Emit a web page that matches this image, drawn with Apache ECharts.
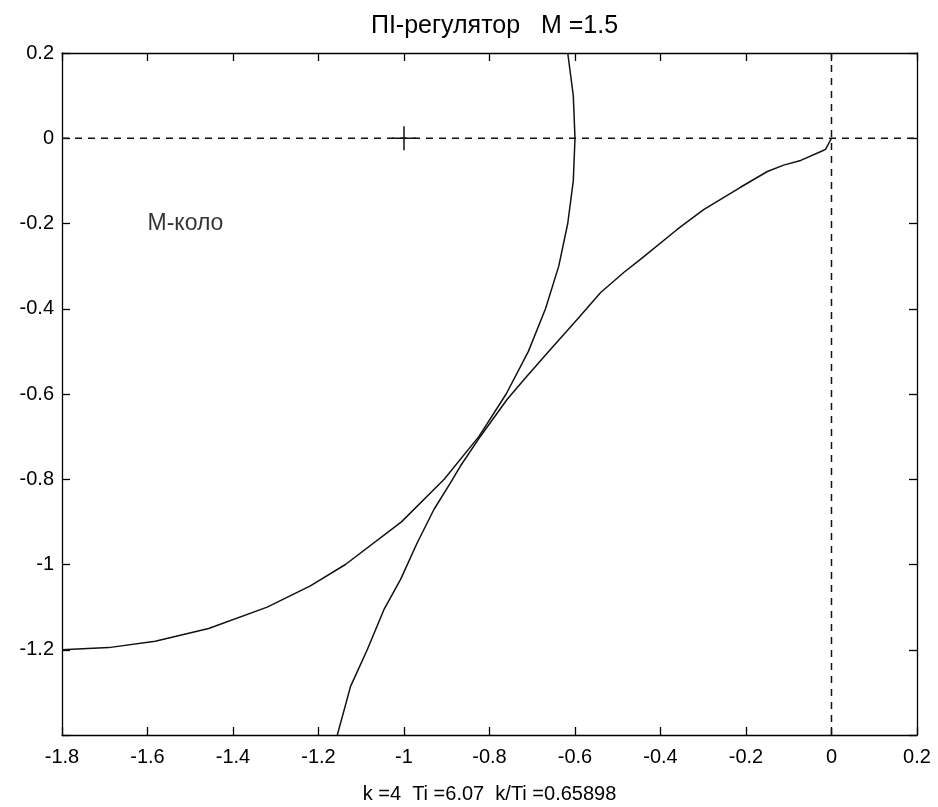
<!DOCTYPE html>
<html>
<head>
<meta charset="utf-8">
<script src="https://cdn.jsdelivr.net/npm/echarts@6/dist/echarts.min.js"></script>
<style>
    html, body { margin: 0; padding: 0; background: #fff; }
    #chart { width: 938px; height: 807px; }
</style>
</head>
<body>
<div id="chart"></div>
<script>
// M-circle (M = 1.5)
var mCircle = [
    [-0.617, 0.2], [-0.604, 0.1], [-0.600, 0.0], [-0.604, -0.1], [-0.617, -0.2],
    [-0.638, -0.3], [-0.669, -0.4], [-0.709, -0.5], [-0.761, -0.6], [-0.825, -0.7],
    [-0.906, -0.8], [-1.006, -0.9], [-1.137, -1.0], [-1.219, -1.05], [-1.320, -1.1],
    [-1.457, -1.15], [-1.582, -1.18], [-1.691, -1.195], [-1.8, -1.2]
];

// Nyquist curve of the open loop with PI controller
var nyquist = [
    [0, 0], [-0.014, -0.026], [-0.022, -0.030], [-0.072, -0.052], [-0.112, -0.063],
    [-0.150, -0.078], [-0.213, -0.115], [-0.300, -0.168], [-0.361, -0.214],
    [-0.447, -0.284], [-0.486, -0.315], [-0.540, -0.362], [-0.595, -0.425],
    [-0.657, -0.495], [-0.712, -0.558], [-0.759, -0.613], [-0.821, -0.699],
    [-0.868, -0.769], [-0.891, -0.808], [-0.930, -0.871], [-0.969, -0.949],
    [-1.008, -1.035], [-1.047, -1.106], [-1.086, -1.200], [-1.125, -1.286],
    [-1.156, -1.400]
];

var zeroLineH = [[-1.8, 0], [0.2, 0]];
var zeroLineV = [[0, -1.4], [0, 0.2]];
var critV = [[-1, -0.028], [-1, 0.028]];
var critH = [[-1.028, 0], [-0.972, 0]];
var labelPoint = [[-1.6, -0.2]];

var titleText = 'ПI-регулятор   M =1.5';
var xLabelText = 'k =4  Ti =6.07  k/Ti =0.65898';
var circleText = 'M-коло';

var fontFamily = '"Liberation Sans", Arial, sans-serif';

function fmt(v) {
    return String(+v.toFixed(1));
}

var axisBase = {
    type: 'value',
    splitLine: { show: false },
    axisLine: { onZero: false, lineStyle: { color: '#000', width: 1.3 } },
    axisTick: { inside: true, length: 8, lineStyle: { color: '#000', width: 1.3 } }
};

function lineSeries(data, width, dashed) {
    return {
        type: 'line',
        data: data,
        showSymbol: false,
        silent: true,
        lineStyle: { color: '#111', width: width, type: dashed ? [7, 6] : 'solid' },
        z: 3
    };
}

var option = {
    animation: false,
    backgroundColor: '#fff',
    title: {
        text: titleText,
        left: 489.5,
        top: 9,
        textAlign: 'center',
        textStyle: { fontFamily: fontFamily, fontSize: 25, fontWeight: 'normal', color: '#000' }
    },
    grid: { left: 62, right: 21, top: 53, bottom: 72, outerBoundsMode: 'none' },
    xAxis: [
        Object.assign({}, axisBase, {
            position: 'bottom',
            min: -1.8, max: 0.2, interval: 0.2,
            name: xLabelText,
            nameLocation: 'middle',
            nameGap: 49,
            nameTextStyle: { fontFamily: fontFamily, fontSize: 20, color: '#000' },
            axisLabel: { margin: 12, formatter: fmt, fontFamily: fontFamily, fontSize: 20, color: '#000' }
        }),
        Object.assign({}, axisBase, {
            position: 'top',
            min: -1.8, max: 0.2, interval: 0.2,
            axisLabel: { show: false }
        })
    ],
    yAxis: [
        Object.assign({}, axisBase, {
            position: 'left',
            min: -1.4, max: 0.2, interval: 0.2,
            axisLabel: {
                margin: 8,
                formatter: function (v) { return v < -1.39 ? '' : fmt(v); },
                fontFamily: fontFamily, fontSize: 20, color: '#000'
            }
        }),
        Object.assign({}, axisBase, {
            position: 'right',
            min: -1.4, max: 0.2, interval: 0.2,
            axisLabel: { show: false }
        })
    ],
    series: [
        lineSeries(zeroLineH, 1.5, true),
        lineSeries(zeroLineV, 1.5, true),
        lineSeries(critV, 1.5, false),
        lineSeries(critH, 1.5, false),
        lineSeries(mCircle, 1.5, false),
        lineSeries(nyquist, 1.5, false),
        {
            type: 'scatter',
            data: labelPoint,
            symbolSize: 0,
            silent: true,
            label: {
                show: true,
                position: 'right',
                distance: 0,
                formatter: circleText,
                fontFamily: fontFamily,
                fontSize: 23,
                color: '#000'
            }
        }
    ]
};

var myChart = echarts.init(document.getElementById('chart'));
myChart.setOption(option);
</script>
</body>
</html>
